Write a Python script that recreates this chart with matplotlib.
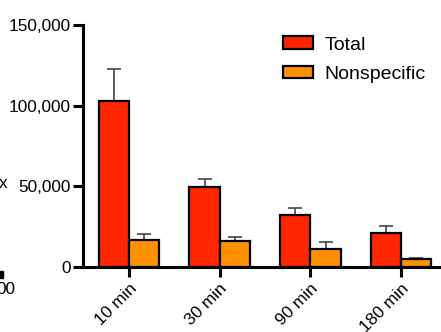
import matplotlib
matplotlib.use("Agg")
import matplotlib.pyplot as plt
import numpy as np

plt.rcParams['font.family'] = ['Liberation Sans', 'DejaVu Sans']

categories = ["10 min", "30 min", "90 min", "180 min"]
total = [103000, 49600, 32100, 21000]
total_err = [20000, 4900, 4700, 4700]
nonspec = [16700, 16000, 11300, 4750]
nonspec_err = [3800, 2700, 4500, 950]
yticks = [0, 50000, 100000, 150000]
ytick_labels = ["0", "50,000", "100,000", "150,000"]

red = "#FF2600"
orange = "#FF9100"

fig = plt.figure(figsize=(4.41, 3.32), dpi=100)
ax = fig.add_axes([0.1882, 0.1958, 0.8118, 0.7289])

x = np.arange(len(categories))
w = 1/3
ax.bar(x - w/2, total, w, color=red, edgecolor='black', linewidth=1.6, label="Total", zorder=2)
ax.bar(x + w/2, nonspec, w, color=orange, edgecolor='black', linewidth=1.6, label="Nonspecific", zorder=2)
ax.errorbar(x - w/2, total, yerr=[np.zeros(4), total_err], fmt='none', ecolor='#444444',
            elinewidth=1.2, capsize=5.2, capthick=1.2, zorder=1)
ax.errorbar(x + w/2, nonspec, yerr=[np.zeros(4), nonspec_err], fmt='none', ecolor='#444444',
            elinewidth=1.2, capsize=5.2, capthick=1.2, zorder=1)

ax.set_xlim(-0.507, 3.44)
ax.set_ylim(0, 150000)
ax.set_yticks(yticks)
ax.set_yticklabels(ytick_labels, fontsize=12.4)
ax.set_xticks(x)
ax.set_xticklabels(categories, fontsize=12.4, rotation=45, ha='right', rotation_mode='anchor')

for s in ['top', 'right']:
    ax.spines[s].set_visible(False)
for s in ['left', 'bottom']:
    ax.spines[s].set_linewidth(2.2)
ax.tick_params(axis='both', width=2.2, length=7, color='black', pad=2)
ax.tick_params(axis='x', pad=3)

leg = ax.legend(loc='upper left', bbox_to_anchor=(0.536, 0.985), frameon=False, fontsize=14,
                handlelength=1.55, handleheight=0.62, handletextpad=0.6, labelspacing=0.62,
                borderaxespad=0.0)

fig.text(7 / 441, 1 - 183 / 332, "x", fontsize=12.4, ha='right', va='center')
fig.text(15 / 441, 1 - 289 / 332, "00", fontsize=12.4, ha='right', va='center')
fig.patches.append(plt.Rectangle((0, 1 - 278 / 332), 3 / 441, 7 / 332, transform=fig.transFigure,
                                 color='black', figure=fig))

fig.savefig("out.png", dpi=100)
